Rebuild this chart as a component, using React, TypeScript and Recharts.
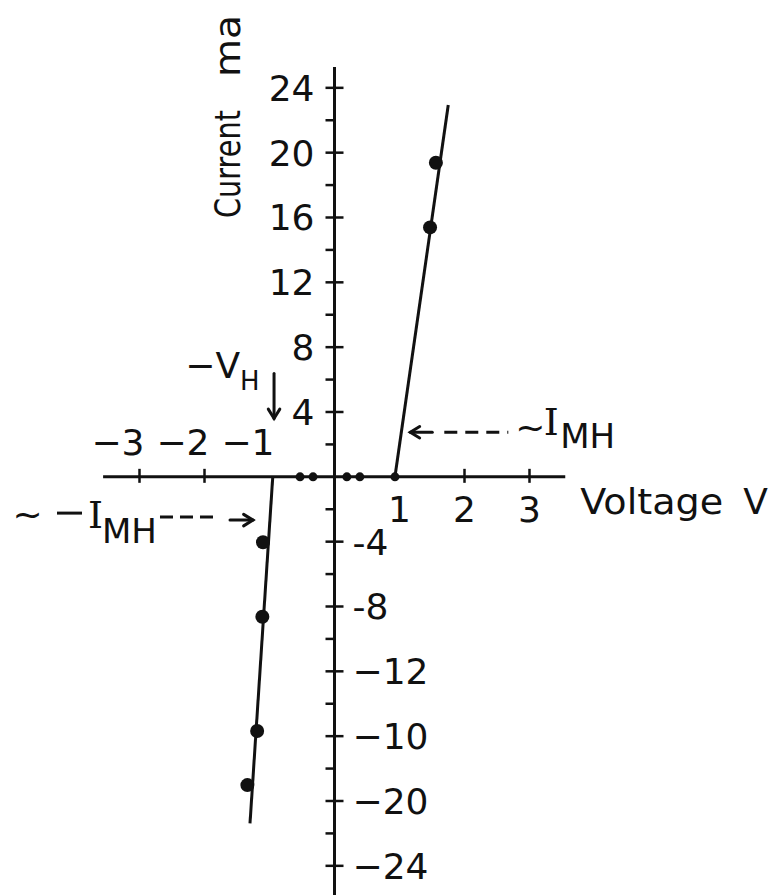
import { ScatterChart, Scatter, XAxis, YAxis, ReferenceLine, ReferenceDot } from "recharts";

const INK = "#111";
const FONT = "DejaVu Sans";

// switching branches of the I-V characteristic (volts, milliamps)
const forwardV = [0.93, 1.75];
const forwardI = [0, 22.94];
const reverseV = [-0.95, -1.3];
const reverseI = [0, -21.38];

// measured points on the two branches
const pointV = [-1.34, -1.19, -1.11, -1.1, 1.47, 1.56];
const pointI = [-19.02, -15.68, -8.63, -4.04, 15.39, 19.38];

// leakage points lying on the voltage axis
const leakV = [-0.53, -0.33, 0.19, 0.39, 0.93];
const leakI = [0, 0, 0, 0, 0];

// axis ticks
const xNegTicks = [-3, -2, -1];
const xNegLabels = ["−3", "−2", "−1"];
const xPosTicks = [1, 2, 3];
const xPosLabels = ["1", "2", "3"];
const xTickMarks = [-3, -2, 2, 3];
const yMajor = [24, 20, 16, 12, 8, 4, -4, -8, -12, -16, -20, -24];
const yLabels = ["24", "20", "16", "12", "8", "4", "-4", "-8", "−12", "−10", "−20", "−24"];
const yMinor = [22, 18, 14, 10, 6, 2, -2, -6, -10, -14, -18, -22];

const X_AXIS_END = [-3.56, 3.55];
const Y_AXIS_END = [25.28, -25.8];

const zip = (xs: number[], ys: number[]) => xs.map((v, k) => ({ v, i: ys[k] }));

const forward = zip(forwardV, forwardI);
const reverse = zip(reverseV, reverseI);
const points = zip(pointV, pointI);
const leak = zip(leakV, leakI);

const txt = { fontFamily: FONT, fill: INK };

function Arrow({ x1, y1, x2, y2 }: { x1: number; y1: number; x2: number; y2: number }) {
  const a = Math.atan2(y2 - y1, x2 - x1);
  const h = 11;
  const w = 0.55;
  return (
    <g stroke={INK} strokeWidth={3} fill="none" strokeLinecap="round">
      <line x1={x1} y1={y1} x2={x2} y2={y2} />
      <polyline
        points={`${x2 - h * Math.cos(a - w)},${y2 - h * Math.sin(a - w)} ${x2},${y2} ${x2 - h * Math.cos(a + w)},${y2 - h * Math.sin(a + w)}`}
      />
    </g>
  );
}

export default function App() {
  return (
    <div style={{ position: "absolute", left: 0, top: 0, background: "#fff" }}>
      <ScatterChart width={776} height={896} margin={{ top: 23, right: 19, bottom: 1, left: 9.5 }}>
        <XAxis type="number" dataKey="v" domain={[-5, 6.5]} allowDataOverflow hide />
        <YAxis type="number" dataKey="i" domain={[-25.8, 28]} allowDataOverflow hide />

        {/* axes crossing at the origin */}
        <ReferenceLine
          segment={[{ x: X_AXIS_END[0], y: 0 }, { x: X_AXIS_END[1], y: 0 }]}
          stroke={INK}
          strokeWidth={3}
        />
        <ReferenceLine
          segment={[{ x: 0, y: Y_AXIS_END[0] }, { x: 0, y: Y_AXIS_END[1] }]}
          stroke={INK}
          strokeWidth={3}
        />

        {xTickMarks.map((t) => (
          <ReferenceDot
            key={`xt${t}`}
            x={t}
            y={0}
            shape={(p: any) => <line x1={p.cx} x2={p.cx} y1={p.cy - 8} y2={p.cy + 6} stroke={INK} strokeWidth={2.5} />}
          />
        ))}
        {xNegTicks.map((t, k) => (
          <ReferenceDot
            key={`xn${t}`}
            x={t}
            y={0}
            shape={(p: any) => (
              <text x={p.cx + 5} y={p.cy - 22} textAnchor="end" fontSize={36} {...txt}>
                {xNegLabels[k]}
              </text>
            )}
          />
        ))}
        {xPosTicks.map((t, k) => (
          <ReferenceDot
            key={`xp${t}`}
            x={t}
            y={0}
            shape={(p: any) => (
              <text x={p.cx} y={p.cy + 45} textAnchor="middle" fontSize={36} {...txt}>
                {xPosLabels[k]}
              </text>
            )}
          />
        ))}

        {yMinor.map((t) => (
          <ReferenceDot
            key={`ym${t}`}
            x={0}
            y={t}
            shape={(p: any) => <line x1={p.cx - 9} x2={p.cx} y1={p.cy} y2={p.cy} stroke={INK} strokeWidth={2.5} />}
          />
        ))}
        {yMajor.map((t, k) => (
          <ReferenceDot
            key={`yM${t}`}
            x={0}
            y={t}
            shape={(p: any) => (
              <g>
                <line x1={p.cx - 9} x2={p.cx + 9} y1={p.cy} y2={p.cy} stroke={INK} strokeWidth={2.5} />
                <text
                  x={t > 0 ? p.cx - 20 : p.cx + 18}
                  y={p.cy + 13}
                  textAnchor={t > 0 ? "end" : "start"}
                  fontSize={36}
                  {...txt}
                >
                  {yLabels[k]}
                </text>
              </g>
            )}
          />
        ))}

        {/* axis titles */}
        <ReferenceDot
          x={X_AXIS_END[1]}
          y={0}
          shape={(p: any) => (
            <text x={p.cx + 15} y={p.cy + 37} fontSize={36} {...txt}>
              <tspan textLength={143} lengthAdjust="spacingAndGlyphs">Voltage</tspan>
              <tspan x={p.cx + 178}>V</tspan>
            </text>
          )}
        />
        <ReferenceDot
          x={0}
          y={Y_AXIS_END[0]}
          shape={(p: any) => {
            const bx = p.cx - 94.5;
            return (
              <g>
                <text
                  x={bx}
                  y={p.cy + 151}
                  transform={`rotate(-90 ${bx} ${p.cy + 151})`}
                  fontSize={36}
                  textLength={108}
                  lengthAdjust="spacingAndGlyphs"
                  {...txt}
                >
                  Current
                </text>
                <text
                  x={bx}
                  y={p.cy + 10}
                  transform={`rotate(-90 ${bx} ${p.cy + 10})`}
                  fontSize={36}
                  textLength={62}
                  lengthAdjust="spacingAndGlyphs"
                  {...txt}
                >
                  ma
                </text>
              </g>
            );
          }}
        />

        {/* holding voltage marker */}
        <ReferenceDot
          x={-0.93}
          y={3.6}
          shape={(p: any) => (
            <g>
              <Arrow x1={p.cx} y1={p.cy - 45} x2={p.cx} y2={p.cy} />
              <text x={p.cx - 34} y={p.cy - 40} textAnchor="end" fontSize={36} {...txt}>
                −V
              </text>
              <text x={p.cx - 34} y={p.cy - 28} fontSize={26} {...txt}>
                H
              </text>
            </g>
          )}
        />

        {/* holding current markers */}
        <ReferenceDot
          x={1.166}
          y={2.75}
          shape={(p: any) => (
            <g>
              <Arrow x1={p.cx + 22} y1={p.cy} x2={p.cx} y2={p.cy} />
              <line
                x1={p.cx + 34}
                x2={p.cx + 98}
                y1={p.cy}
                y2={p.cy}
                stroke={INK}
                strokeWidth={3}
                strokeDasharray="13 8"
              />
              <text x={p.cx + 120} y={p.cy + 8} textAnchor="middle" fontSize={36} {...txt}>
                ~
              </text>
              <text x={p.cx + 141} y={p.cy + 3} textAnchor="middle" fontSize={38} fontFamily="DejaVu Serif" fill={INK}>
                I
              </text>
              <text x={p.cx + 150} y={p.cy + 16} fontSize={34} {...txt}>
                MH
              </text>
            </g>
          )}
        />
        <ReferenceDot
          x={-1.254}
          y={-2.67}
          shape={(p: any) => (
            <g>
              <Arrow x1={p.cx - 23} y1={p.cy} x2={p.cx} y2={p.cy} />
              <line
                x1={p.cx - 93}
                x2={p.cx - 38}
                y1={p.cy - 3}
                y2={p.cy - 3}
                stroke={INK}
                strokeWidth={3}
                strokeDasharray="13 7"
              />
              <text x={p.cx - 225.5} y={p.cy + 7} textAnchor="middle" fontSize={36} {...txt}>
                ~
              </text>
              <line x1={p.cx - 196} x2={p.cx - 171} y1={p.cy - 7} y2={p.cy - 7} stroke={INK} strokeWidth={3} />
              <text x={p.cx - 157.5} y={p.cy + 8} textAnchor="middle" fontSize={38} fontFamily="DejaVu Serif" fill={INK}>
                I
              </text>
              <text x={p.cx - 151} y={p.cy + 23} fontSize={34} {...txt}>
                MH
              </text>
            </g>
          )}
        />

        {/* branches and measured points */}
        <Scatter
          data={forward}
          line={{ stroke: INK, strokeWidth: 3 }}
          shape={() => <g />}
          isAnimationActive={false}
        />
        <Scatter
          data={reverse}
          line={{ stroke: INK, strokeWidth: 3 }}
          shape={() => <g />}
          isAnimationActive={false}
        />
        <Scatter
          data={points}
          shape={(p: any) => <circle cx={p.cx} cy={p.cy} r={7} fill={INK} />}
          isAnimationActive={false}
        />
        <Scatter
          data={leak}
          shape={(p: any) => <circle cx={p.cx} cy={p.cy} r={4.5} fill={INK} />}
          isAnimationActive={false}
        />
      </ScatterChart>
    </div>
  );
}
